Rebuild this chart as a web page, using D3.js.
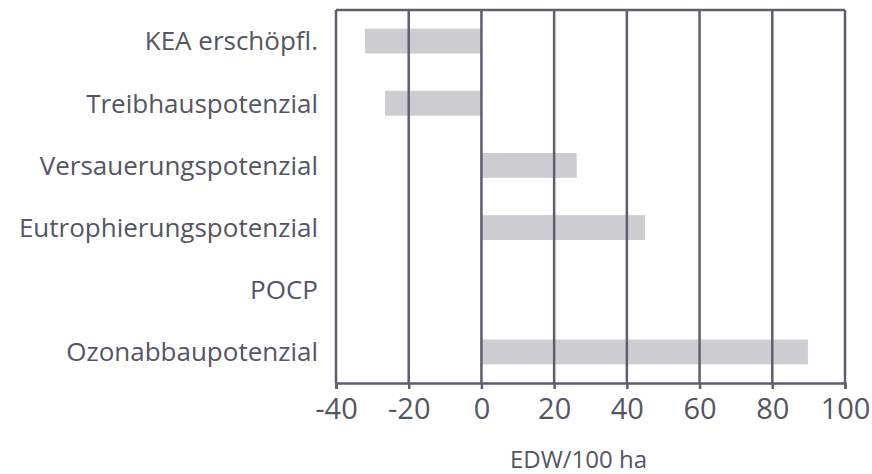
<!DOCTYPE html>
<html>
<head>
<meta charset="utf-8">
<script src="https://d3js.org/d3.v7.min.js"></script>
<style>
  body { margin: 0; background: #fff; }
  text { font-family: "Open Sans", sans-serif; fill: #535663; }
</style>
</head>
<body>
<div id="chart"></div>
<script>
var categories = ["KEA erschöpfl.", "Treibhauspotenzial", "Versauerungspotenzial",
                  "Eutrophierungspotenzial", "POCP", "Ozonabbaupotenzial"];
var values = [-32, -26.5, 26.2, 45, 0, 89.8];
var xTicks = [-40, -20, 0, 20, 40, 60, 80, 100];
var xTitle = "EDW/100 ha";

var W = 872, H = 474;
var margin = {top: 10, right: 27, bottom: 91, left: 336},
    width = W - margin.left - margin.right,
    height = H - margin.top - margin.bottom;

var lineColor = "#5d606c";

var svg = d3.select("#chart")
    .append("svg")
    .attr("width", W)
    .attr("height", H)
    .append("g")
    .attr("transform", "translate(" + margin.left + "," + margin.top + ")");

var x = d3.scaleLinear().domain([-40, 100]).range([0, width]);
var y = d3.scaleBand().domain(categories).range([0, height])
    .paddingInner(0.6).paddingOuter(0.3);

// bars first, grid drawn on top
svg.selectAll("rect.bar")
    .data(categories)
    .enter()
    .append("rect")
    .attr("class", "bar")
    .attr("x", function(d, i) { return x(Math.min(0, values[i])); })
    .attr("y", function(d) { return y(d); })
    .attr("width", function(d, i) { return Math.abs(x(values[i]) - x(0)); })
    .attr("height", y.bandwidth())
    .attr("fill", "#cdcdd1");

// vertical grid lines
svg.selectAll("line.grid")
    .data(xTicks)
    .enter()
    .append("line")
    .attr("class", "grid")
    .attr("x1", function(d) { return x(d); })
    .attr("x2", function(d) { return x(d); })
    .attr("y1", 0)
    .attr("y2", height)
    .attr("stroke", lineColor)
    .attr("stroke-width", 2.5);

// top border
svg.append("line")
    .attr("x1", 0).attr("x2", width)
    .attr("y1", 0).attr("y2", 0)
    .attr("stroke", lineColor)
    .attr("stroke-width", 2.5);

// x axis
var xAxis = svg.append("g")
    .attr("transform", "translate(0," + height + ")")
    .call(d3.axisBottom(x).tickValues(xTicks).tickSize(6).tickPadding(8)
        .tickFormat(function(d) { return String(d); }));
xAxis.select(".domain").attr("stroke", lineColor).attr("stroke-width", 2.5);
xAxis.selectAll(".tick line").attr("stroke", lineColor).attr("stroke-width", 2.5);
xAxis.selectAll(".tick text")
    .attr("font-size", 29)
    .attr("dy", "0.75em")
    .style("font-family", "'Open Sans', sans-serif")
    .attr("fill", "#535663");

// category labels
svg.selectAll("text.cat")
    .data(categories)
    .enter()
    .append("text")
    .attr("class", "cat")
    .attr("x", -18)
    .attr("y", function(d) { return y(d) + y.bandwidth() / 2; })
    .attr("dy", "0.36em")
    .attr("text-anchor", "end")
    .attr("font-size", 26)
    .text(function(d) { return d; });

// axis title
svg.append("text")
    .attr("x", width / 2 - 12)
    .attr("y", height + 85)
    .attr("text-anchor", "middle")
    .attr("font-size", 24)
    .text(xTitle);
</script>
</body>
</html>
